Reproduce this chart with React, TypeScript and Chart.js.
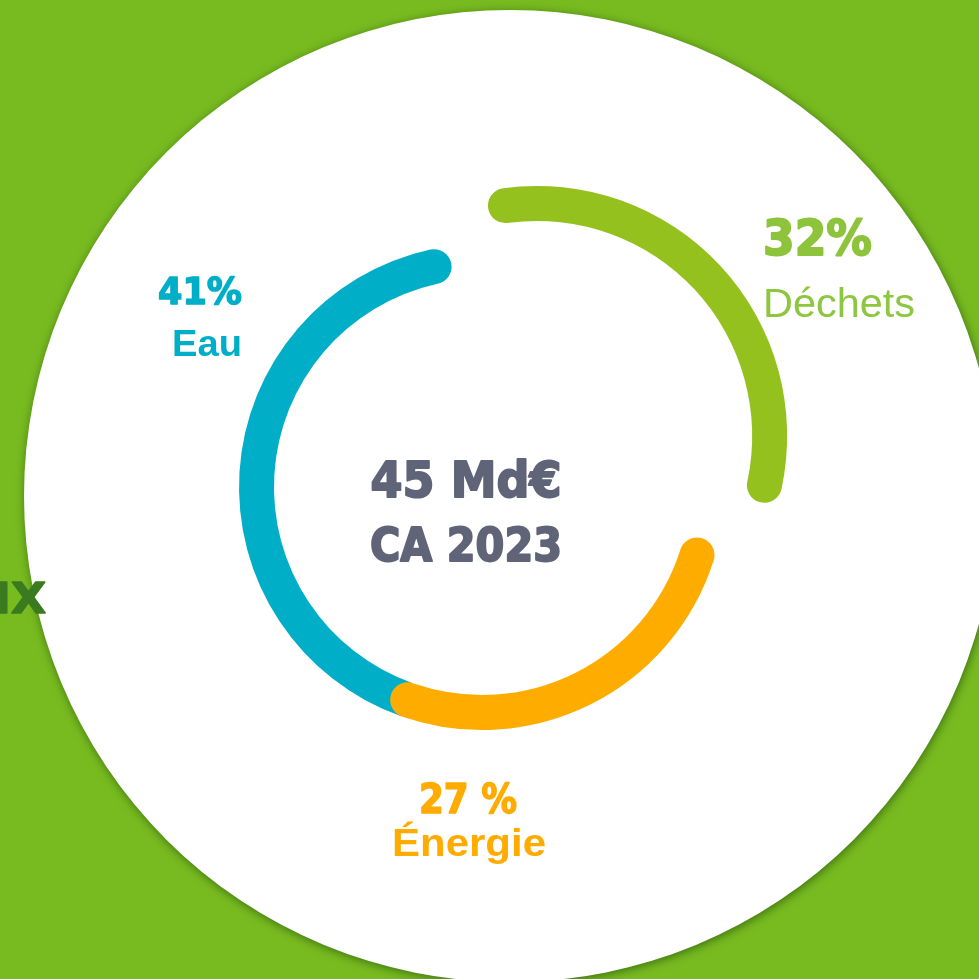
import React, { useEffect, useRef } from 'react';
import { Chart, registerables } from 'chart.js';

Chart.register(...registerables);

// clockwise from the bottom-left: Eau, Déchets, Énergie
const categories = ['Eau', 'Déchets', 'Énergie'];
const shares = [41, 32, 27];
const shareLabels = ['41%', '32%', '27 %'];
const totalLabel = '45 Md€';
const yearLabel = 'CA 2023';
const sideLabel = 'IX';
const sliceColors = ['#00aec7', '#95c11f', '#ffac00'];
const sliceOffsets = [0, 300, 0];

const HEAVY = '"DejaVu Sans", sans-serif';
const CAP = 17.5;

function fitText(
  ctx: CanvasRenderingContext2D,
  text: string,
  x: number,
  y: number,
  font: string,
  color: string,
  targetW: number,
  align: 'left' | 'right' | 'center',
  stroke = 0
) {
  ctx.save();
  ctx.font = font;
  ctx.textAlign = 'left';
  ctx.textBaseline = 'alphabetic';
  const w = ctx.measureText(text).width;
  const sx = targetW / w;
  const left = align === 'left' ? x : align === 'right' ? x - targetW : x - targetW / 2;
  ctx.translate(left, y);
  ctx.scale(sx, 1);
  ctx.fillStyle = color;
  ctx.fillText(text, 0, 0);
  if (stroke > 0) {
    ctx.strokeStyle = color;
    ctx.lineWidth = stroke;
    ctx.lineJoin = 'round';
    ctx.strokeText(text, 0, 0);
  }
  ctx.restore();
}

const backdropPlugin = {
  id: 'backdrop',
  beforeDraw(chart: any) {
    const ctx: CanvasRenderingContext2D = chart.ctx;
    ctx.save();
    ctx.fillStyle = '#78bb20';
    ctx.fillRect(0, 0, chart.width, chart.height);
    ctx.shadowColor = 'rgba(0,40,0,0.5)';
    ctx.shadowBlur = 10;
    ctx.shadowOffsetX = 1;
    ctx.shadowOffsetY = 2;
    ctx.fillStyle = '#ffffff';
    ctx.beginPath();
    ctx.arc(510, 496, 486, 0, Math.PI * 2);
    ctx.fill();
    ctx.restore();
  },
  afterDraw(chart: any) {
    const ctx: CanvasRenderingContext2D = chart.ctx;
    // Déchets
    fitText(ctx, shareLabels[1], 763, 255, `bold 50px ${HEAVY}`, '#8dc43c', 109, 'left', 2);
    fitText(ctx, categories[1], 763, 317, '40px "Liberation Sans", Arial, sans-serif', '#8dc63f', 152, 'left');
    // Eau
    fitText(ctx, shareLabels[0], 242, 304, `bold 38px ${HEAVY}`, '#00aec7', 84, 'right', 1.5);
    fitText(ctx, categories[0], 242, 356, 'bold 37px "Liberation Sans", Arial, sans-serif', '#00aec7', 70, 'right');
    // Énergie
    fitText(ctx, shareLabels[2], 468, 813, `bold 41px ${HEAVY}`, '#ffab00', 98, 'center', 1.5);
    fitText(ctx, categories[2], 469, 856, 'bold 38px "Liberation Sans", Arial, sans-serif', '#ffab00', 154, 'center');
    // centre
    fitText(ctx, totalLabel, 466, 497, `bold 50px ${HEAVY}`, '#5f6478', 191, 'center', 2);
    fitText(ctx, yearLabel, 466, 561, `bold 46px ${HEAVY}`, '#5f6478', 192, 'center', 2);
    // cut-off side text
    fitText(ctx, sideLabel, 46, 613, `bold 43px ${HEAVY}`, '#3b7a1f', 52, 'right', 1.5);
  },
};

export default function App() {
  const ref = useRef<HTMLCanvasElement>(null);

  useEffect(() => {
    if (!ref.current) return;
    const chart = new Chart(ref.current, {
      type: 'doughnut',
      data: {
        labels: categories,
        datasets: [
          {
            data: shares,
            backgroundColor: sliceColors,
            borderWidth: 0,
            offset: sliceOffsets,
            borderRadius: (c: any) =>
              c.dataIndex === 0
                ? { outerStart: 0, innerStart: 0, outerEnd: CAP, innerEnd: CAP }
                : CAP,
            spacing: -16,
          } as any,
        ],
      },
      options: {
        responsive: false,
        animation: false,
        events: [],
        rotation: 202,
        cutout: '86.06%',
        radius: 251,
        layout: { padding: { left: 232, top: 237, right: 247, bottom: 242 } },
        plugins: {
          legend: { display: false },
          tooltip: { enabled: false },
        },
      } as any,
      plugins: [backdropPlugin],
    });
    return () => chart.destroy();
  }, []);

  return (
    <div style={{ position: 'fixed', left: 0, top: 0, width: 979, height: 979 }}>
      <canvas ref={ref} width={979} height={979} style={{ display: 'block' }} />
    </div>
  );
}
